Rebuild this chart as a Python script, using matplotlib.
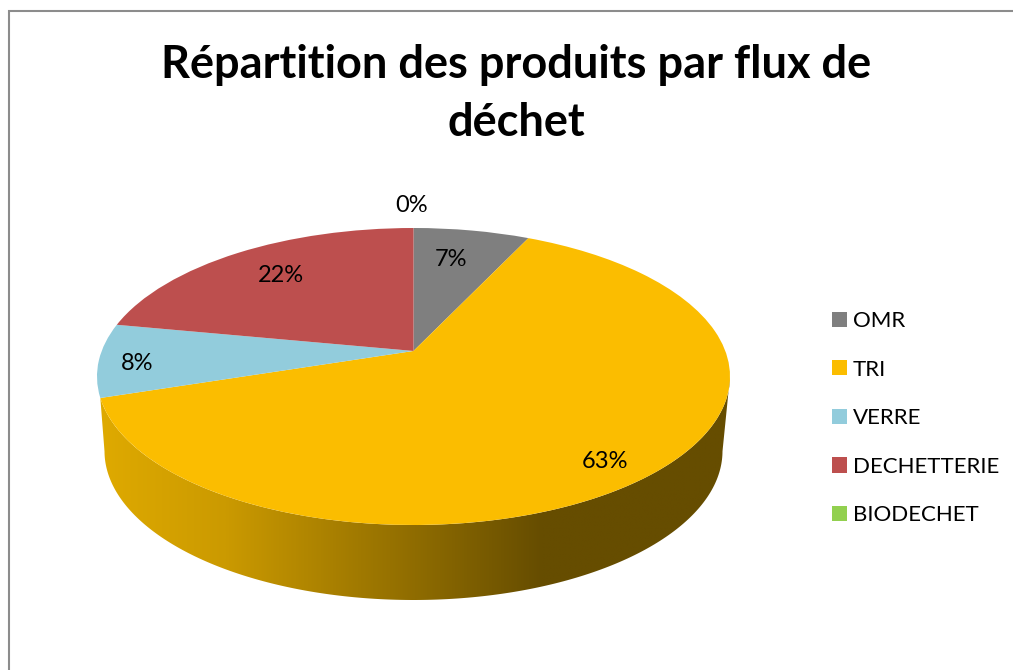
import numpy as np
import matplotlib
matplotlib.use("Agg")
import matplotlib.pyplot as plt
from matplotlib.transforms import Transform
from matplotlib.patches import Polygon
from matplotlib.colors import LinearSegmentedColormap

# ---- data ----
categories = ["OMR", "TRI", "VERRE", "DECHETTERIE", "BIODECHET"]
values = [7, 63, 8, 22, 0]
colors = ["#7F7F7F", "#FBBD00", "#92CCDC", "#BD4F4E", "#92D04F"]
title = "Répartition des produits par flux de\ndéchet"

plt.rcParams["font.family"] = ["Lato", "DejaVu Sans"]


class DiskProjection(Transform):
    """Tilted-disk perspective: unit circle to a screen ellipse with a shifted apex."""
    input_dims = output_dims = 2
    is_separable = False
    has_inverse = False

    def __init__(self, cx, cy, rx, ry, shift):
        super().__init__()
        self.cx, self.cy, self.rx, self.ry, self.shift = cx, cy, rx, ry, shift

    def transform_non_affine(self, xy):
        xy = np.asarray(xy, dtype=float)
        s = self.shift
        d = 1 + s * xy[:, 1]
        u = xy[:, 0] * np.sqrt(1 - s * s) / d
        v = (xy[:, 1] + s) / d
        return np.column_stack([self.cx + self.rx * u, self.cy - self.ry * v])


fig = plt.figure(figsize=(10.13, 6.70), dpi=100, facecolor="white")
ax = fig.add_axes([0, 0, 1, 1])

top = DiskProjection(413.5, 376.5, 316.5, 148.5, 0.172)
bottom = DiskProjection(413.5, 451, 309, 149, 0.172)

wedges, _ = ax.pie(values, labels=categories, labeldistance=None, colors=colors,
                   startangle=90, counterclock=False,
                   wedgeprops={"transform": top + ax.transData, "linewidth": 0,
                               "edgecolor": "none", "zorder": 3})

ax.set_aspect("auto")
ax.set_xlim(0, 1013)
ax.set_ylim(670, 0)
ax.set_axis_off()

# side wall of the TRI slice (the only slice whose rim faces the viewer)
start_deg = 360 * values[0] / 100
end_deg = 360 * (values[0] + values[1]) / 100
rim_right = 100.0
rim_left = 260.0


def rim(tf, a, b):
    t = np.radians(np.linspace(a, b, 200))
    return tf.transform_non_affine(np.column_stack([np.sin(t), np.cos(t)]))


outline = np.vstack([rim(top, max(start_deg, rim_right), end_deg),
                     rim(bottom, rim_left, max(start_deg, rim_right))])
wall = Polygon(outline, closed=True, transform=ax.transData, facecolor="none",
               edgecolor="none")
ax.add_patch(wall)
ramp = LinearSegmentedColormap.from_list(
    "wall", [(0.0, "#DFAA00"), (0.20, "#CB9A00"), (0.50, "#8F6C00"),
             (0.70, "#664D00"), (1.0, "#664D00")])
img = ax.imshow(np.linspace(0, 1, 512)[None, :], cmap=ramp, vmin=0, vmax=1, aspect="auto",
                extent=(98, 732, 610, 370), zorder=2, interpolation="bilinear")
img.set_clip_path(wall)
ax.set_xlim(0, 1013)
ax.set_ylim(670, 0)

# chart frame: only top and left edges fall inside the crop
frame_color = "#8C8C8C"
ax.plot([8.5, 8.5, 1013], [670, 10.5, 10.5], color=frame_color, lw=1.5, zorder=1,
        solid_joinstyle="miter")

# title
ax.text(516.5, 94, title, ha="center", va="center", fontsize=32.5, fontweight="bold",
        color="black", linespacing=1.5)

# percent labels
label_xy = [(451, 260), (605, 462), (137, 363), (281, 275), (412, 206)]
for v, (lx, ly) in zip(values, label_xy):
    ax.text(lx, ly, f"{v}%", ha="center", va="center", fontsize=17, color="black", zorder=5)

# legend
fs = 16
ax.legend(handles=wedges, labels=categories, loc="upper left",
          bbox_to_anchor=(832 / 1013, 1 - 311 / 670), frameon=False, fontsize=fs,
          handlelength=0.68, handleheight=0.68, handletextpad=0.27, labelspacing=1.285,
          borderpad=0, borderaxespad=0)

fig.savefig("out.png", dpi=100)
